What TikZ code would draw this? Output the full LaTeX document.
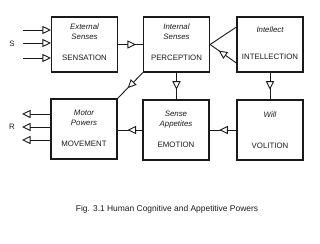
\documentclass[tikz,border=0pt]{standalone}
\usepackage{fontspec}
\setmainfont{Liberation Sans}
\usetikzlibrary{arrows.meta,positioning,decorations.markings}
\definecolor{InkBlack}{HTML}{1A1A1A}

\begin{document}
\begin{tikzpicture}[
      x=0.035cm,y=-0.035cm,
      font=\fontsize{7.8}{9.5}\selectfont,
      text=InkBlack,
      powerbox/.style={draw=InkBlack,line width=1.1pt,minimum width=2.31cm,minimum height=1.925cm,inner sep=0pt},
      tallbox/.style={powerbox,minimum height=2.1cm},
      boxtitle/.style={inner sep=0pt,align=center,font=\fontsize{7.8}{10}\selectfont\itshape},
      boxname/.style={inner sep=0pt},
      flow/.style={draw=InkBlack,line width=0.9pt},
      tip/.style={flow,postaction={decorate},decoration={markings,mark=at position #1 with {\arrow{Triangle[fill=white,length=8.5pt,width=8pt]}}}},
      endarr/.style={flow,-{Triangle[fill=white,length=8.5pt,width=8pt]}}
    ]
      \useasboundingbox (0,0) rectangle (320,244);
      \node[powerbox] (sens) at (84.5,44.5) {};
      \node[powerbox] (perc) at (176.5,44.5) {};
      \node[powerbox] (intel) at (270,44.5) {};
      \node[tallbox] (move) at (84,129) {};
      \node[tallbox] (emot) at (176,130) {};
      \node[tallbox] (voli) at (270,130) {};
      \node[boxtitle,below=7pt of sens.north] (senstitle) {External\\Senses};
      \node[boxname,above=12pt of sens.south] (sensname) {SENSATION};
      \node[boxtitle,below=7pt of perc.north] (perctitle) {Internal\\Senses};
      \node[boxname,above=12pt of perc.south] (percname) {PERCEPTION};
      \node[boxtitle,below=10pt of intel.north] (inteltitle) {Intellect};
      \node[boxname,above=13pt of intel.south] (intelname) {INTELLECTION};
      \node[boxtitle,below=11pt of move.north] (movetitle) {Motor\\Powers};
      \node[boxname,above=13pt of move.south] (movename) {MOVEMENT};
      \node[boxtitle,below=11pt of emot.north] (emottitle) {Sense\\Appetites};
      \node[boxname,above=13pt of emot.south] (emotname) {EMOTION};
      \node[boxtitle,below=12pt of voli.north] (volititle) {Will};
      \node[boxname,above=12pt of voli.south] (voliname) {VOLITION};
      \node (sin) at (12,44) {S};
      \node (rout) at (12,127) {R};
      \coordinate (s1) at (23,30);
      \coordinate (s2) at (23,43);
      \coordinate (s3) at (23,58);
      \coordinate (r1) at (22,114);
      \coordinate (r2) at (22,127);
      \coordinate (r3) at (22,140);
      \draw[endarr] (s1) -- (s1 -| sens.west);
      \draw[endarr] (s2) -- (s2 -| sens.west);
      \draw[endarr] (s3) -- (s3 -| sens.west);
      \draw[endarr] (r1 -| move.west) -- (r1);
      \draw[endarr] (r2 -| move.west) -- (r2);
      \draw[endarr] (r3 -| move.west) -- (r3);
      \draw[tip=0.72] (sens) -- (perc);
      \draw[flow] (perc.east) -- ([yshift=17.4pt]intel.west);
      \draw[tip=0.67] ([yshift=-18.5pt]intel.west) -- (perc.east);
      \draw[tip=0.64] (perc.south) -- (perc.south |- emot.north);
      \draw[tip=0.64] (intel.south) -- (voli.north);
      \draw[tip=0.64] (voli) -- (emot);
      \draw[tip=0.6] (emot.west) -- (emot.west -| move.east);
      \draw[tip=0.6] (perc.south west) -- (move.north east);
      \node[font=\fontsize{8.4}{10}\selectfont] (caption) at (167,209) {Fig. 3.1 Human Cognitive and Appetitive Powers};
    \end{tikzpicture}
\end{document}
